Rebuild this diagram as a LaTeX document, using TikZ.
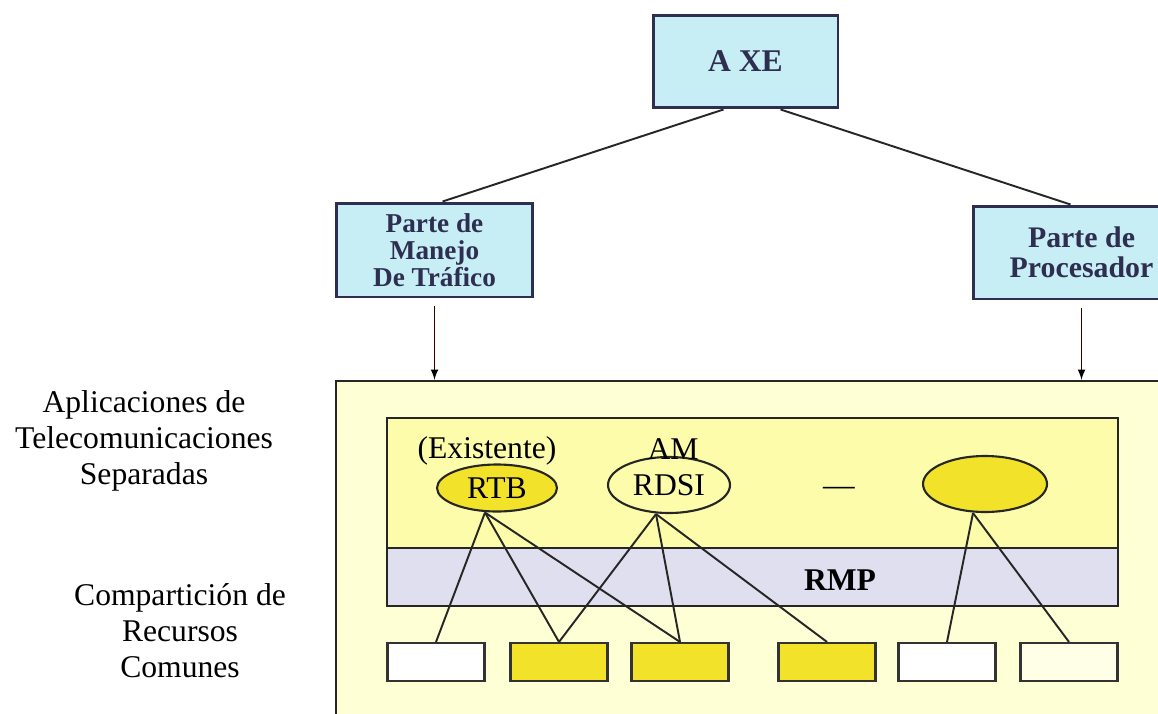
\documentclass[tikz,border=0pt]{standalone}
\usepackage{fontspec}
\setmainfont{Liberation Serif}
\usetikzlibrary{arrows,calc,shapes.geometric}
\definecolor{axecyan}{RGB}{200,238,245}
\definecolor{axenavy}{RGB}{46,46,80}
\definecolor{marcoamarillo}{RGB}{255,255,214}
\definecolor{aplicamarillo}{RGB}{252,252,170}
\definecolor{rmplila}{RGB}{224,223,240}
\definecolor{oro}{RGB}{242,226,42}

\begin{document}
\begin{tikzpicture}[x=0.02cm,y=-0.02cm,
  parte/.style={draw=axenavy,line width=1.7pt,fill=axecyan,text=axenavy,
    font=\bfseries\fontsize{15.5}{15.5}\selectfont,align=center,inner sep=0pt},
  aplic/.style={ellipse,draw=black!85,line width=1.2pt,inner sep=0pt,
    font=\fontsize{18}{20}\selectfont},
  recurso/.style={draw=black!80,line width=1.2pt,minimum width=1.94cm,
    minimum height=0.76cm,inner sep=0pt},
  rotulo/.style={align=center,font=\fontsize{18}{20.5}\selectfont},
  linea/.style={draw=black!85,line width=1.1pt},
  flecha/.style={draw=black!80!red,line width=1pt,-latex,shorten <=4pt}]
  \useasboundingbox (0,0) rectangle (1158,713);
  \clip (0,0) rectangle (1158,713);

  \node[parte,minimum width=3.7cm,minimum height=1.86cm] (axe) at (745.5,61.5)
    {\fontsize{18}{20}\selectfont A XE};
  \node[parte,minimum width=3.94cm,minimum height=1.88cm] (manejo) at (434.5,250)
    {Parte de\\Manejo\\De Tráfico};
  \node[parte,minimum width=4.34cm,minimum height=1.86cm,
    font=\bfseries\fontsize{17}{17}\selectfont] (proc) at (1081.5,252.5)
    {Parte de\\Procesador};

  \path[linea]
  ($(axe.south)+(-22,0)$) edge ($(manejo.north)+(8,0)$)
  ($(axe.south)+(35,0)$) edge ($(proc.north)+(-11,0)$);

  % marco de la central
  \node[draw=black!85,line width=1.4pt,fill=marcoamarillo,minimum width=16.68cm,
    minimum height=6.88cm] (marco) at (753,553) {};
  \node[draw=black!85,line width=1.2pt,fill=aplicamarillo,minimum width=14.62cm,
    minimum height=2.6cm] (aplicaciones) at (752.5,483) {};
  \node[draw=black!85,line width=1.2pt,fill=rmplila,minimum width=14.62cm,
    minimum height=1.16cm] (rmp) at (752.5,577) {};
  \node[font=\bfseries\fontsize{18}{20}\selectfont] (rmptxt) at (840,580) {RMP};

  \path[flecha]
  (manejo) edge (manejo |- marco.north)
  (proc) edge (proc |- marco.north);

  % aplicaciones
  \node[aplic,fill=oro,minimum width=2.4cm,minimum height=0.94cm] (rtb) at (497,488) {RTB};
  \node[aplic,fill=aplicamarillo,minimum width=2.44cm,minimum height=1.12cm] (rdsi) at (669,485) {RDSI};
  \node[aplic,fill=oro,minimum width=2.48cm,minimum height=1.12cm] (otra) at (985,484) {};
  \node[rotulo] (existente) at (487,451) {(Existente)};
  \node[rotulo] (am) at (673,449) {AM};
  \node[rotulo] (guion) at (839,491) {---};

  % recursos comunes
  \node[recurso,fill=white] (r1) at (436,662) {};
  \node[recurso,fill=oro] (r2) at (559,662) {};
  \node[recurso,fill=oro] (r3) at (680,662) {};
  \node[recurso,fill=oro] (r4) at (827,662) {};
  \node[recurso,fill=white] (r5) at (947,662) {};
  \node[recurso,fill=white!90!yellow] (r6) at (1069,662) {};

  \coordinate (rtbpie) at ($(rtb.south)+(-12,0)$);
  \coordinate (rdsipie) at ($(rdsi.south)+(-13,0)$);
  \coordinate (otrapie) at ($(otra.south)+(-12,0)$);
  \path[linea]
  (rtbpie) edge (r1.north) edge (r2.north) edge (r3.north)
  (rdsipie) edge (r2.north) edge (r3.north) edge (r4.north)
  (otrapie) edge (r5.north) edge (r6.north);

  \node[rotulo] (sep) at (144,441) {Aplicaciones de\\Telecomunicaciones\\Separadas};
  \node[rotulo] (comp) at (180,631) {Compartición de\\Recursos\\Comunes};
\end{tikzpicture}
\end{document}
